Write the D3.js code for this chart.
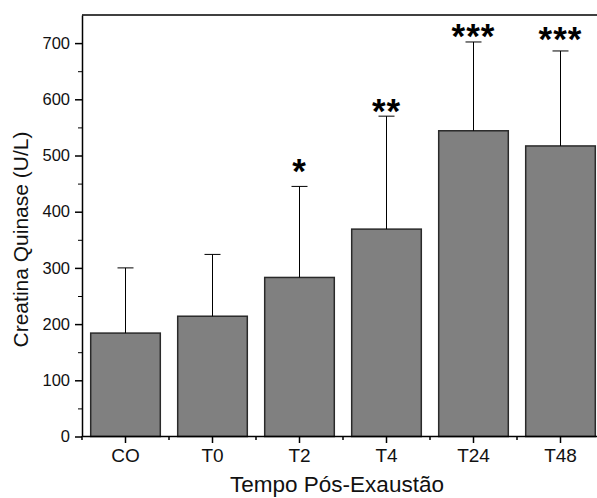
<!DOCTYPE html>
<html>
<head>
<meta charset="utf-8">
<script src="https://cdn.jsdelivr.net/npm/d3@7"></script>
<style>
    body { margin: 0; background: #fff; }
    svg { display: block; font-family: "Liberation Sans", Arial, sans-serif; }
</style>
</head>
<body>
<div id="chart"></div>
<script>
// data
var categories = ["CO", "T0", "T2", "T4", "T24", "T48"];
var means      = [184, 214, 283, 369, 544, 517];
var errTops    = [300, 324, 445, 570, 702, 686];
var sigLabels  = ["", "", "*", "**", "***", "***"];
var sigLevels  = [null, null, 486, 593, 726, 721];   // where the stars sit (U/L)
var yTicks     = [0, 100, 200, 300, 400, 500, 600, 700];
var yMinor     = [50, 150, 250, 350, 450, 550, 650];

var width = 597, height = 498;
var margin = {top: 15, left: 82, bottom: 62};
var plotRight = 604;   // plot runs a little past the window edge
var y0 = height - margin.bottom;

var svg = d3.select("#chart").append("svg")
    .attr("width", width)
    .attr("height", height);

var x = d3.scaleBand()
    .domain(categories)
    .range([margin.left, plotRight])
    .paddingInner(0.2)
    .paddingOuter(0.1);

var y = d3.scaleLinear()
    .domain([0, 750])
    .range([y0 + 0.5, margin.top]);

// bars
svg.append("g")
    .selectAll("rect")
    .data(categories)
    .enter().append("rect")
    .attr("x", function(d) { return x(d); })
    .attr("y", function(d, i) { return y(means[i]); })
    .attr("width", x.bandwidth())
    .attr("height", function(d, i) { return y(0) - y(means[i]); })
    .attr("fill", "#808080")
    .attr("stroke", "#2a2a2a")
    .attr("stroke-width", 1.5);

// error bars (upper only)
var err = svg.append("g")
    .attr("stroke", "#000")
    .attr("stroke-width", 1);

err.selectAll("line.whisker")
    .data(categories)
    .enter().append("line")
    .attr("class", "whisker")
    .attr("x1", function(d) { return x(d) + x.bandwidth() / 2; })
    .attr("x2", function(d) { return x(d) + x.bandwidth() / 2; })
    .attr("y1", function(d, i) { return y(means[i]); })
    .attr("y2", function(d, i) { return y(errTops[i]); });

err.selectAll("line.cap")
    .data(categories)
    .enter().append("line")
    .attr("class", "cap")
    .attr("x1", function(d) { return x(d) + x.bandwidth() / 2 - 8; })
    .attr("x2", function(d) { return x(d) + x.bandwidth() / 2 + 8; })
    .attr("y1", function(d, i) { return y(errTops[i]); })
    .attr("y2", function(d, i) { return y(errTops[i]); });

// significance stars
var starSize = 35;
svg.append("g")
    .selectAll("text")
    .data(categories)
    .enter().append("text")
    .attr("x", function(d) { return x(d) + x.bandwidth() / 2; })
    .attr("y", function(d, i) {
        if (sigLevels[i] == null) return 0;
        return y(sigLevels[i]) + starSize * 0.56;
    })
    .attr("text-anchor", "middle")
    .style("font-size", starSize + "px")
    .attr("font-weight", "bold")
    .attr("letter-spacing", 1)
    .attr("fill", "#000")
    .text(function(d, i) { return sigLabels[i]; });

// y axis
var yAxis = svg.append("g")
    .attr("transform", "translate(" + margin.left + ",0)")
    .call(d3.axisLeft(y).tickValues(yTicks).tickSize(7).tickPadding(5).tickSizeOuter(0));

svg.append("g")
    .attr("transform", "translate(" + margin.left + ",0)")
    .call(d3.axisLeft(y).tickValues(yMinor).tickSize(4).tickFormat("").tickSizeOuter(0))
    .select(".domain").remove();

// x axis: labels at centres, small ticks between categories
var xAxis = svg.append("g")
    .attr("transform", "translate(0," + y0 + ")")
    .call(d3.axisBottom(x).tickSize(7).tickPadding(6).tickSizeOuter(0));

var bounds = categories.map(function(d) { return x(d) - x.step() * x.paddingInner() / 2; });
bounds.push(plotRight);
svg.append("g")
    .selectAll("line")
    .data(bounds)
    .enter().append("line")
    .attr("x1", function(d) { return d; })
    .attr("x2", function(d) { return d; })
    .attr("y1", y0)
    .attr("y2", y0 + 4)
    .attr("stroke", "#000")
    .attr("stroke-width", 1.5);

[yAxis, xAxis].forEach(function(ax) {
    ax.selectAll("path.domain").attr("stroke-width", 1.5);
    ax.selectAll(".tick line").attr("stroke-width", 1.5);
    ax.selectAll(".tick text")
        .style("font-family", "\"Liberation Sans\", Arial, sans-serif")
        .attr("fill", "#111");
});
xAxis.selectAll(".tick text").style("font-size", "19px");
yAxis.selectAll(".tick text").style("font-size", "16.5px");

// top frame line
svg.append("line")
    .attr("x1", margin.left)
    .attr("x2", plotRight)
    .attr("y1", margin.top)
    .attr("y2", margin.top)
    .attr("stroke", "#000")
    .attr("stroke-width", 1.5);

// axis titles
svg.append("text")
    .attr("transform", "translate(28," + ((margin.top + y0) / 2 + 14) + ")rotate(-90)")
    .attr("text-anchor", "middle")
    .style("font-size", "21px")
    .attr("fill", "#111")
    .text("Creatina Quinase (U/L)");

svg.append("text")
    .attr("x", (margin.left + plotRight) / 2 - 6)
    .attr("y", 492)
    .attr("text-anchor", "middle")
    .style("font-size", "22.5px")
    .attr("fill", "#111")
    .text("Tempo Pós-Exaustão");
</script>
</body>
</html>
